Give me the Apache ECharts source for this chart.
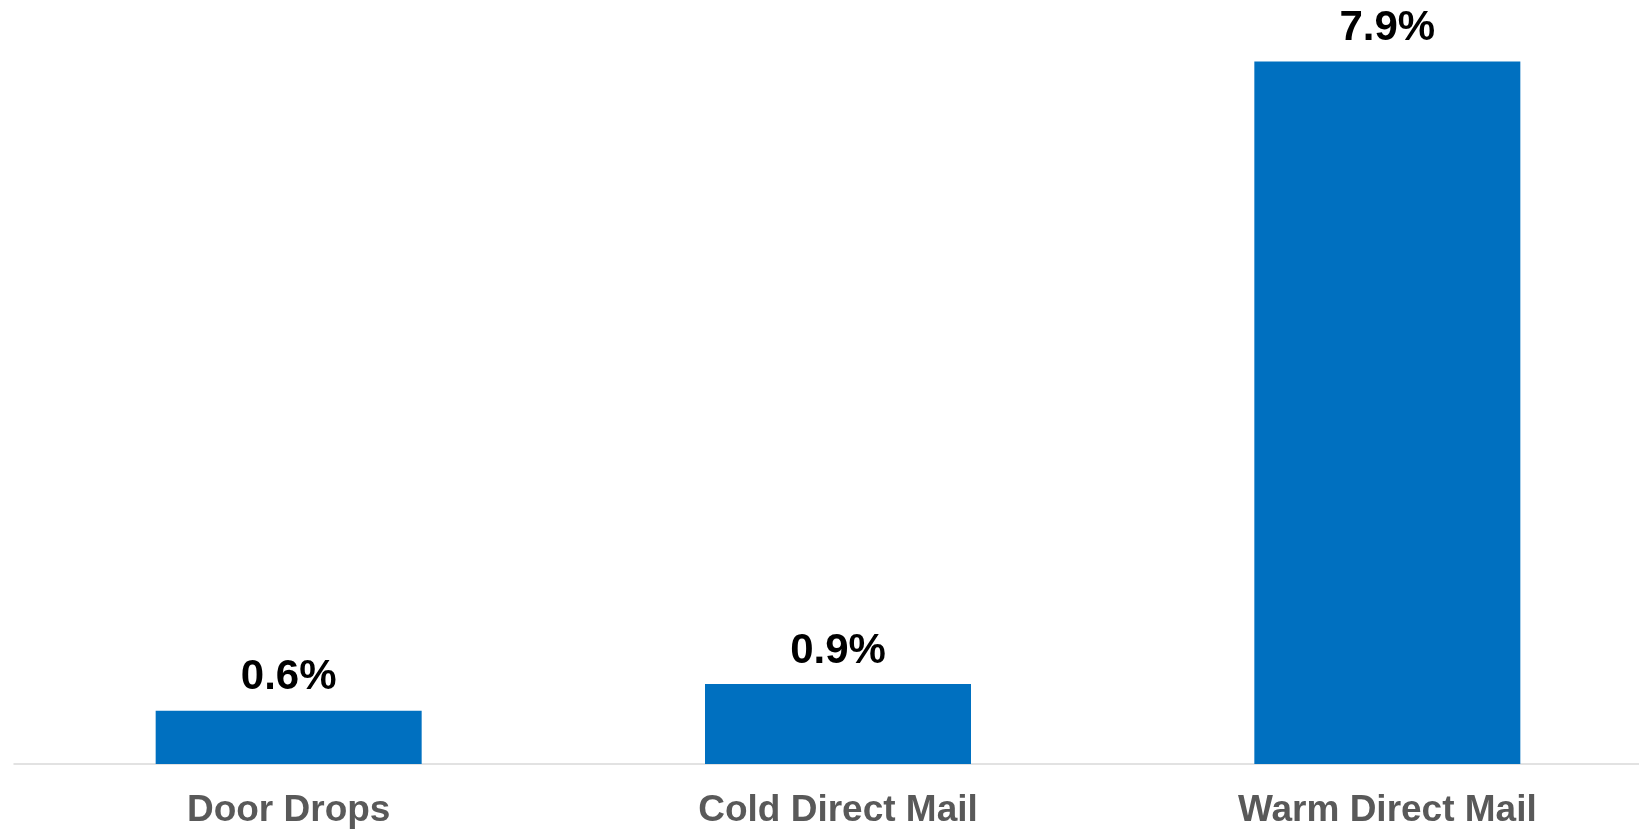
<!DOCTYPE html>
<html>
<head>
<meta charset="utf-8">
<script src="https://cdn.jsdelivr.net/npm/echarts@6/dist/echarts.min.js"></script>
<style>
  html, body { margin: 0; padding: 0; background: #ffffff; overflow: hidden; width: 1639px; height: 829px; }
  /* the plot area runs a little past the right edge of the window */
  #chart { width: 1662px; height: 829px; }
</style>
</head>
<body>
<div id="chart"></div>
<script>
// Response rate by mailing channel
const categories = ['Door Drops', 'Cold Direct Mail', 'Warm Direct Mail'];
const responseRates = [0.6, 0.9, 7.9];

const chart = echarts.init(document.getElementById('chart'));
chart.setOption({
  animation: false,
  backgroundColor: '#ffffff',
  grid: { left: 14, right: 0, top: 52.5, bottom: 64.5, containLabel: false },
  xAxis: {
    type: 'category',
    data: categories,
    axisLine: { show: true, lineStyle: { color: '#D9D9D9', width: 1.5 } },
    axisTick: { show: false },
    axisLabel: {
      color: '#595959',
      fontFamily: 'Liberation Sans, Arial, sans-serif',
      fontWeight: 'bold',
      fontSize: 37,
      margin: 28
    }
  },
  yAxis: {
    type: 'value',
    min: 0,
    max: 8,
    show: false,
    splitLine: { show: false }
  },
  series: [{
    type: 'bar',
    data: responseRates,
    barWidth: 266,
    itemStyle: { color: '#0070C0' },
    label: {
      show: true,
      position: 'top',
      distance: 12,
      color: '#000000',
      fontFamily: 'Liberation Sans, Arial, sans-serif',
      fontWeight: 'bold',
      fontSize: 42,
      formatter: p => p.value.toFixed(1) + '%'
    }
  }]
});
</script>
</body>
</html>
